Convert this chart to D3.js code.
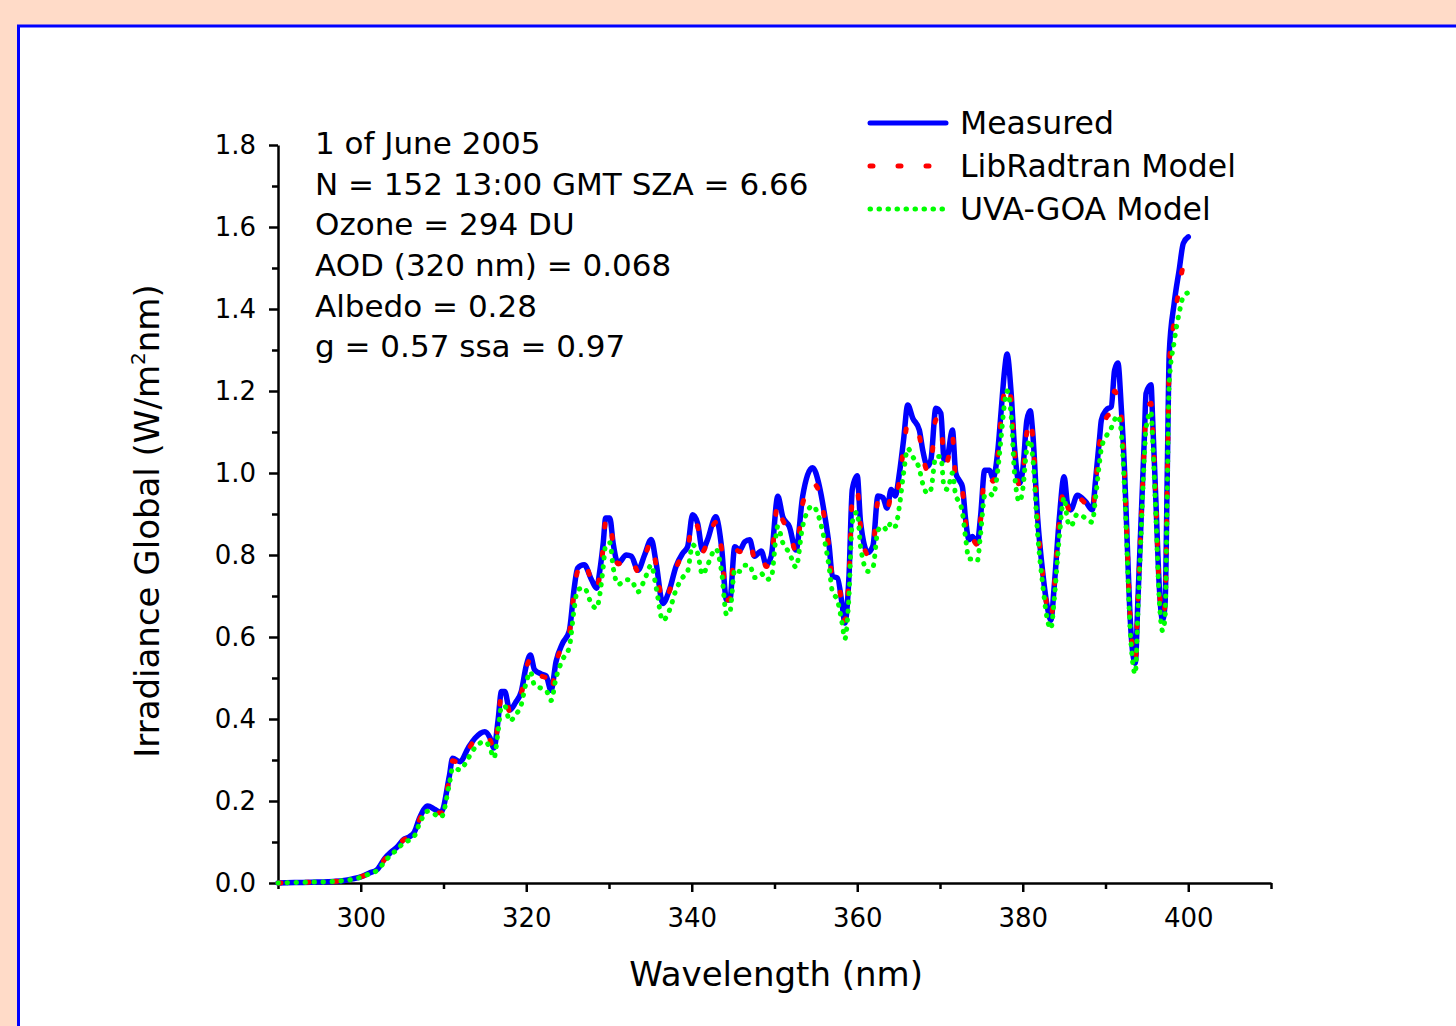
<!DOCTYPE html>
<html>
<head>
<meta charset="utf-8">
<script src="https://cdn.jsdelivr.net/npm/d3@7"></script>
<style>
  html, body { margin: 0; padding: 0; background: #FFDBC8; }
  svg { display: block; }
  text { font-family: "DejaVu Sans", Verdana, sans-serif; fill: #000; }
</style>
</head>
<body>
<div id="chart"></div>
<script>

// Wavelength grid (nm)
var wavelength = [
  290, 292, 294, 296, 297, 298, 299, 300, 301, 302,
  302.9, 303.7, 304.5, 305.1, 305.9, 306.5, 307.1, 308.1, 308.9, 309.7,
  310.7, 311.1, 312.0, 313.0, 313.8, 315.0, 315.6, 316.1, 316.6, 317.0,
  317.4, 318.0, 318.7, 319.4, 320.0, 320.5, 321.0, 321.8, 322.4, 323.0,
  323.6, 324.4, 325.2, 325.8, 326.2, 327.0, 327.9, 328.5, 328.9, 329.3,
  329.6, 330.1, 330.5, 331.1, 332.1, 332.7, 333.5, 334.3, 335.1, 335.7,
  336.5, 337.3, 338.1, 338.9, 339.5, 340.1, 340.7, 341.3, 341.9, 342.9,
  343.6, 344.2, 344.6, 345.2, 345.8, 346.4, 347.0, 347.6, 348.4, 349.0,
  349.6, 350.4, 351.0, 351.8, 352.6, 353.4, 354.6, 355.4, 356.0, 356.6,
  357.0, 357.6, 358.2, 358.5, 359.0, 359.4, 360.0, 360.4, 361.3, 361.9,
  362.5, 363.1, 363.6, 364.1, 364.6, 365.1, 365.6, 366.1, 366.7, 367.5,
  367.9, 368.5, 368.9, 369.5, 370.1, 370.5, 370.9, 371.5, 371.9, 372.3,
  372.7, 373.1, 373.5, 373.9, 374.5, 374.9, 375.4, 376.0, 376.4, 377.0,
  377.4, 377.8, 378.1, 378.6, 379.0, 379.6, 380.0, 380.5, 380.9, 381.2,
  381.8, 382.4, 383.0, 383.4, 383.8, 384.4, 385.0, 385.4, 385.8, 386.6,
  387.6, 388.4, 388.8, 389.3, 389.5, 390.1, 390.7, 391.1, 391.5, 391.9,
  392.3, 392.6, 392.9, 393.3, 393.6, 393.9, 394.3, 394.7, 394.9, 395.5,
  395.7, 396.1, 396.5, 396.9, 397.2, 397.5, 397.7, 398.3, 398.9, 399.4,
  400.0
];

// Measured global irradiance (W/m2nm)
var measured = [
  0.000, 0.001, 0.002, 0.003, 0.004, 0.006, 0.010, 0.015, 0.024, 0.033,
  0.060, 0.076, 0.090, 0.105, 0.113, 0.125, 0.158, 0.188, 0.180, 0.172,
  0.260, 0.304, 0.296, 0.330, 0.353, 0.369, 0.355, 0.329, 0.398, 0.467,
  0.467, 0.422, 0.440, 0.467, 0.530, 0.556, 0.520, 0.510, 0.505, 0.470,
  0.540, 0.585, 0.615, 0.720, 0.768, 0.776, 0.739, 0.719, 0.763, 0.829,
  0.890, 0.890, 0.829, 0.780, 0.800, 0.797, 0.763, 0.800, 0.838, 0.780,
  0.682, 0.715, 0.772, 0.804, 0.820, 0.898, 0.878, 0.812, 0.837, 0.893,
  0.820, 0.690, 0.690, 0.820, 0.812, 0.832, 0.837, 0.797, 0.810, 0.776,
  0.797, 0.943, 0.893, 0.869, 0.812, 0.943, 1.013, 0.970, 0.905, 0.823,
  0.748, 0.744, 0.675, 0.634, 0.748, 0.960, 0.993, 0.880, 0.806, 0.823,
  0.944, 0.940, 0.914, 0.960, 0.944, 1.000, 1.081, 1.166, 1.134, 1.105,
  1.057, 1.016, 1.032, 1.158, 1.146, 1.032, 1.040, 1.105, 1.000, 0.983,
  0.967, 0.886, 0.837, 0.845, 0.829, 0.893, 1.007, 1.007, 0.987, 1.057,
  1.154, 1.250, 1.290, 1.194, 1.064, 0.975, 1.007, 1.129, 1.152, 1.100,
  0.890, 0.760, 0.670, 0.641, 0.723, 0.885, 0.991, 0.926, 0.910, 0.946,
  0.930, 0.910, 0.983, 1.089, 1.129, 1.154, 1.162, 1.251, 1.268, 1.162,
  1.007, 0.845, 0.682, 0.560, 0.536, 0.682, 0.885, 1.089, 1.194, 1.215,
  1.129, 0.926, 0.723, 0.641, 0.682, 1.048, 1.292, 1.414, 1.495, 1.560,
  1.576
];

// LibRadtran model
var libradtran = [
  0.000, 0.001, 0.002, 0.003, 0.004, 0.006, 0.010, 0.015, 0.023, 0.032,
  0.058, 0.075, 0.088, 0.104, 0.112, 0.123, 0.155, 0.184, 0.178, 0.170,
  0.255, 0.298, 0.292, 0.325, 0.350, 0.362, 0.350, 0.325, 0.392, 0.460,
  0.462, 0.418, 0.436, 0.462, 0.524, 0.545, 0.515, 0.505, 0.500, 0.466,
  0.535, 0.580, 0.610, 0.715, 0.760, 0.785, 0.735, 0.715, 0.755, 0.820,
  0.885, 0.888, 0.825, 0.778, 0.795, 0.792, 0.760, 0.795, 0.832, 0.775,
  0.685, 0.712, 0.768, 0.800, 0.815, 0.885, 0.870, 0.808, 0.832, 0.880,
  0.815, 0.690, 0.692, 0.815, 0.808, 0.828, 0.832, 0.792, 0.805, 0.772,
  0.792, 0.925, 0.885, 0.862, 0.808, 0.925, 0.975, 0.955, 0.895, 0.815,
  0.745, 0.740, 0.672, 0.640, 0.745, 0.935, 0.960, 0.870, 0.800, 0.818,
  0.930, 0.928, 0.905, 0.945, 0.935, 0.985, 1.060, 1.120, 1.115, 1.090,
  1.045, 1.005, 1.020, 1.130, 1.130, 1.025, 1.030, 1.090, 0.990, 0.975,
  0.958, 0.880, 0.832, 0.838, 0.825, 0.885, 0.990, 0.995, 0.980, 1.045,
  1.140, 1.200, 1.215, 1.180, 1.055, 0.970, 1.000, 1.100, 1.130, 1.090,
  0.885, 0.755, 0.668, 0.645, 0.720, 0.880, 0.960, 0.920, 0.905, 0.940,
  0.925, 0.905, 0.975, 1.075, 1.100, 1.135, 1.150, 1.200, 1.180, 1.140,
  1.000, 0.840, 0.680, 0.565, 0.540, 0.680, 0.880, 1.070, 1.150, 1.170,
  1.110, 0.920, 0.720, 0.650, 0.680, 1.030, 1.260, 1.370, 1.450, 1.500,
  1.500
];

// UVA-GOA model
var uvagoa = [
  0.000, 0.001, 0.002, 0.003, 0.004, 0.006, 0.009, 0.014, 0.022, 0.031,
  0.052, 0.070, 0.083, 0.097, 0.105, 0.115, 0.145, 0.175, 0.168, 0.160,
  0.240, 0.280, 0.276, 0.305, 0.330, 0.345, 0.330, 0.305, 0.370, 0.430,
  0.432, 0.395, 0.410, 0.435, 0.490, 0.515, 0.482, 0.475, 0.470, 0.445,
  0.500, 0.545, 0.575, 0.670, 0.715, 0.720, 0.680, 0.670, 0.705, 0.770,
  0.825, 0.830, 0.770, 0.728, 0.740, 0.738, 0.710, 0.740, 0.775, 0.720,
  0.640, 0.665, 0.715, 0.745, 0.760, 0.825, 0.805, 0.752, 0.775, 0.815,
  0.760, 0.655, 0.660, 0.765, 0.760, 0.775, 0.775, 0.745, 0.755, 0.740,
  0.745, 0.870, 0.830, 0.805, 0.770, 0.870, 0.920, 0.890, 0.840, 0.770,
  0.710, 0.690, 0.630, 0.595, 0.700, 0.880, 0.905, 0.820, 0.760, 0.770,
  0.860, 0.870, 0.860, 0.880, 0.870, 0.920, 1.000, 1.060, 1.040, 1.010,
  0.975, 0.950, 0.960, 1.040, 1.040, 0.965, 0.960, 1.000, 0.945, 0.930,
  0.905, 0.840, 0.790, 0.790, 0.785, 0.850, 0.945, 0.950, 0.945, 1.010,
  1.090, 1.170, 1.200, 1.140, 1.000, 0.930, 0.960, 1.060, 1.080, 1.040,
  0.850, 0.730, 0.640, 0.620, 0.690, 0.840, 0.940, 0.885, 0.870, 0.900,
  0.890, 0.880, 0.940, 1.030, 1.060, 1.090, 1.110, 1.130, 1.140, 1.100,
  0.960, 0.810, 0.650, 0.535, 0.510, 0.650, 0.850, 1.040, 1.110, 1.150,
  1.080, 0.890, 0.690, 0.615, 0.650, 1.000, 1.220, 1.320, 1.390, 1.430,
  1.440
];

// Axis ticks
var xMajorTicks = [300, 320, 340, 360, 380, 400];
var xMinorTicks = [290, 310, 330, 350, 370, 390, 410];
var yMajorTicks = [0, 0.2, 0.4, 0.6, 0.8, 1.0, 1.2, 1.4, 1.6, 1.8];
var yMinorTicks = [0.1, 0.3, 0.5, 0.7, 0.9, 1.1, 1.3, 1.5, 1.7];

// Info text and legend
var infoLines = [
  "1 of June 2005",
  "N = 152 13:00 GMT SZA = 6.66",
  "Ozone = 294 DU",
  "AOD (320 nm) = 0.068",
  "Albedo = 0.28",
  "g = 0.57 ssa = 0.97"
];
var seriesNames = ["Measured", "LibRadtran Model", "UVA-GOA Model"];
var seriesColors = ["#0000FF", "#FF0000", "#00FF00"];
var seriesDash = [null, "3,25", "0.5,8.5"];

var W = 1456, H = 1026;
var margin = {top: 145, right: 185, bottom: 143, left: 278},
    width = W - margin.left - margin.right,   // 993
    height = H - margin.top - margin.bottom;  // 738

var svg0 = d3.select("#chart").append("svg")
    .attr("width", W)
    .attr("height", H);

// outer peach + white panel with blue border
svg0.append("rect")
    .attr("width", W).attr("height", H)
    .attr("fill", "#FFDBC8");
svg0.append("rect")
    .attr("x", 18.5).attr("y", 26)
    .attr("width", W + 20).attr("height", H + 20)
    .attr("fill", "#FFFFFF")
    .attr("stroke", "#0000FF")
    .attr("stroke-width", 3);

var svg = svg0.append("g")
    .attr("transform", "translate(" + margin.left + "," + margin.top + ")");

var x = d3.scaleLinear().domain([290, 410]).range([0, width]);
var y = d3.scaleLinear().domain([0, 1.8]).range([height, 0]);

// x axis
svg.append("g")
    .attr("transform", "translate(0," + height + ")")
    .call(d3.axisBottom(x).tickValues(xMajorTicks).tickSize(9).tickSizeOuter(0).tickPadding(17));
svg.append("g")
    .attr("transform", "translate(0," + height + ")")
    .call(d3.axisBottom(x).tickValues(xMinorTicks).tickSize(6).tickFormat(""))
    .select(".domain").remove();

// y axis
svg.append("g")
    .call(d3.axisLeft(y).tickValues(yMajorTicks).tickSize(9).tickSizeOuter(0).tickPadding(13)
            .tickFormat(d3.format(".1f")));
svg.append("g")
    .call(d3.axisLeft(y).tickValues(yMinorTicks).tickSize(6).tickFormat(""))
    .select(".domain").remove();

svg.selectAll(".domain, .tick line")
    .attr("stroke", "#000")
    .attr("stroke-width", 2.5);
svg.selectAll(".tick text")
    .attr("font-family", "DejaVu Sans")
    .attr("font-size", 26)
    .attr("fill", "#000");

// axis titles
svg.append("text")
    .attr("x", x(350.2))
    .attr("y", height + 103)
    .attr("text-anchor", "middle")
    .attr("font-size", 34)
    .text("Wavelength (nm)");

var ylab = svg.append("text")
    .attr("transform", "translate(-119," + (y(0.9) + 7) + ") rotate(-90)")
    .attr("text-anchor", "middle")
    .attr("font-size", 34);
ylab.append("tspan").text("Irradiance Global (W/m");
ylab.append("tspan").attr("font-size", 20).attr("dy", -14).text("2");
ylab.append("tspan").attr("dy", 14).text("nm)");

// series
var series = [measured, libradtran, uvagoa];
series.forEach(function(vals, k) {
  var pts = wavelength.map(function(w, i) { return {x: w, y: vals[i]}; });
  var line = d3.line()
      .x(function(d) { return x(d.x); })
      .y(function(d) { return y(d.y); })
      .curve(d3.curveMonotoneX);
  svg.append("path")
      .datum(pts)
      .attr("fill", "none")
      .attr("stroke", seriesColors[k])
      .attr("stroke-width", k === 0 ? 5.5 : 5)
      .attr("stroke-linecap", "round")
      .attr("stroke-linejoin", "round")
      .attr("stroke-dasharray", seriesDash[k])
      .attr("d", line);
});

// info block
svg.selectAll(".info")
    .data(infoLines)
  .enter().append("text")
    .attr("class", "info")
    .attr("x", 37)
    .attr("y", function(d, i) { return -2 + i * 40.7; })
    .attr("dy", "0.35em")
    .attr("font-size", 31)
    .text(function(d) { return d; });

// legend
var leg = svg.selectAll(".legend")
    .data(seriesNames)
  .enter().append("g")
    .attr("class", "legend")
    .attr("transform", function(d, i) { return "translate(590," + (-22 + i * 43) + ")"; });
leg.append("line")
    .attr("x1", 2).attr("x2", 78)
    .attr("stroke", function(d, i) { return seriesColors[i]; })
    .attr("stroke-width", 5)
    .attr("stroke-linecap", "round")
    .attr("stroke-dasharray", function(d, i) { return seriesDash[i]; });
leg.append("text")
    .attr("x", 92)
    .attr("dy", "0.35em")
    .attr("font-size", 31.5)
    .text(function(d) { return d; });

</script>
</body>
</html>
